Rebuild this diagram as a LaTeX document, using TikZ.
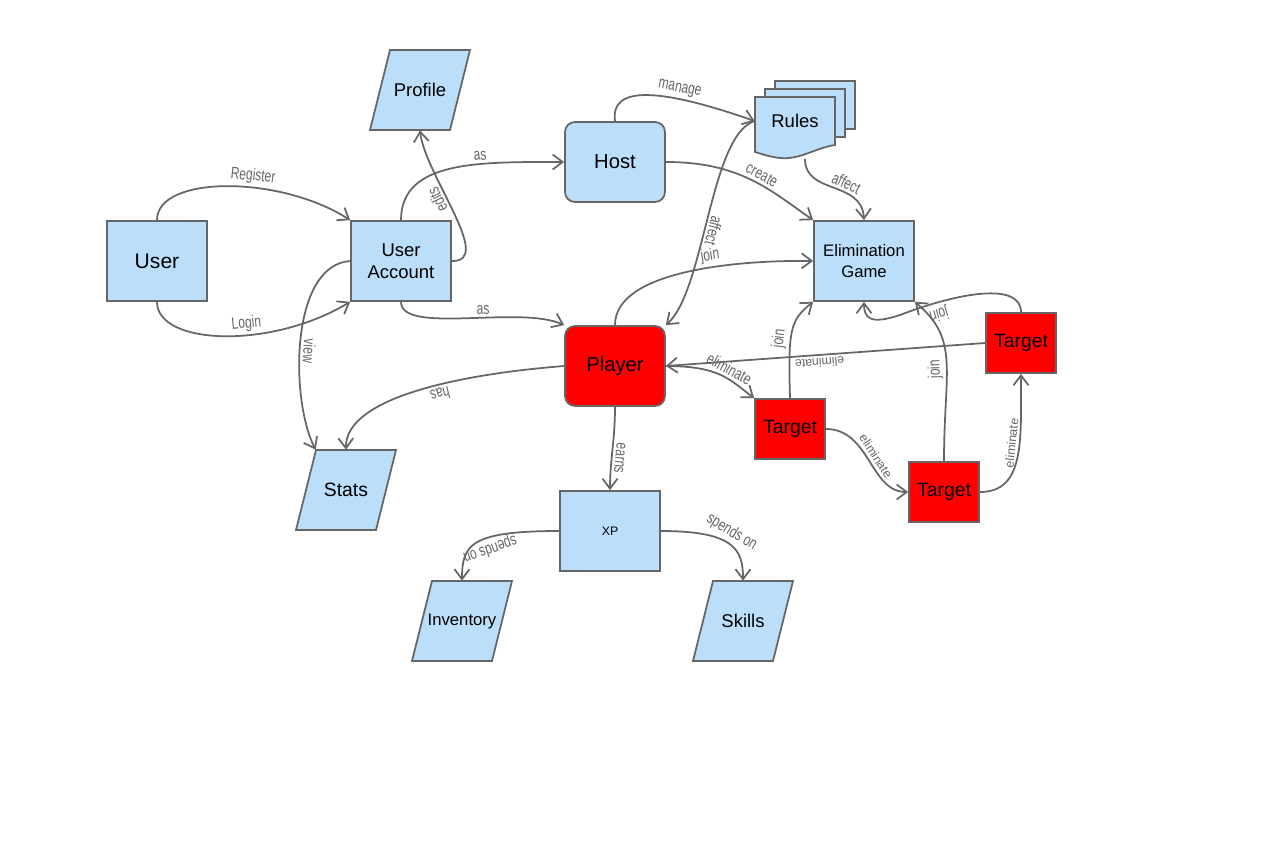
\documentclass[tikz,border=0pt]{standalone}
\usepackage{fontspec}
\setmainfont{Liberation Sans}
\newfontfamily\edgefont[FakeStretch=0.72]{Liberation Sans}
\usetikzlibrary{arrows.meta}
\definecolor{boxblue}{RGB}{187,222,251}
\definecolor{edgegray}{RGB}{102,102,102}

\begin{document}
\begin{tikzpicture}[x=0.02cm, y=-0.02cm,
  shape line/.style={draw=edgegray, fill=boxblue, line width=1pt},
  box/.style={rectangle, shape line, inner sep=0pt, minimum width=2cm, minimum height=1.6cm, align=center},
  rbox/.style={box, rounded corners=0.2cm},
  tgt/.style={box, fill=red, minimum width=1.4cm, minimum height=1.2cm, font=\fontsize{11}{13}\selectfont},
  data/.style={rectangle, inner sep=0pt, minimum width=1.2cm, minimum height=1.6cm},
  big/.style={font=\fontsize{11.5}{14}\selectfont},
  mid/.style={font=\fontsize{10.5}{12.5}\selectfont},
  link/.style={draw=edgegray, line width=1pt, -{Straight Barb[length=2mm,width=3mm]}},
  lbl/.style={font=\edgefont\fontsize{9.5}{11}\selectfont, text=edgegray, sloped, above, allow upside down, inner sep=1.5pt},
  lblsmall/.style={lbl, font=\fontsize{7}{8}\selectfont},
]
\useasboundingbox (0,0) rectangle (1282,859);

% --- rules stack ---
\filldraw[shape line] (775,81) rectangle (855,129);
\filldraw[shape line] (765,89) rectangle (845,137);
\filldraw[shape line] (755,97) -- (835,97) -- (835,145)
  .. controls (815,148) and (800,160) .. (780,158) .. controls (770,157) and (762,154) .. (755,152) -- cycle;
\node[mid, minimum width=1.6cm, minimum height=0.96cm] (rules) at (795,121) {Rules};
\coordinate (rulesfoot) at (805,159);

% --- data parallelograms ---
\foreach \cx/\cy in {420/90, 346/490, 462/621, 743/621}
  \filldraw[shape line] (\cx-30,\cy-40) -- (\cx+50,\cy-40) -- (\cx+30,\cy+40) -- (\cx-50,\cy+40) -- cycle;

% --- nodes ---
\node[box, font=\fontsize{12}{14}\selectfont] (user) at (157,261) {User};
\node[box, mid] (account) at (401,261) {User\\Account};
\node[data, mid] (profile) at (420,90) {Profile};
\node[rbox, big] (host) at (615,162) {Host};
\node[box, font=\fontsize{9.5}{11.5}\selectfont] (game) at (864,261) {Elimination\\Game};
\node[rbox, big, fill=red] (player) at (615,366) {Player};
\node[tgt] (target1) at (790,429) {Target};
\node[tgt] (target2) at (944,492) {Target};
\node[tgt] (target3) at (1021,343) {Target};
\node[data, font=\fontsize{11}{13}\selectfont] (stats) at (346,490) {Stats};
\node[box, font=\fontsize{7}{8}\selectfont] (xp) at (610,531) {XP};
\node[data, font=\fontsize{9.5}{11.5}\selectfont] (inventory) at (462,621) {Inventory};
\node[data, mid] (skills) at (743,621) {Skills};

% --- connectors ---
\draw[link] (user.north) .. controls (157,175) and (280,175) .. (account.north west) node[lbl, pos=0.6] {Register};
\draw[link] (user.south) .. controls (157,345) and (270,350) .. (account.south west) node[lbl, pos=0.6] {Login};
\draw[link] (account.north) .. controls (401,160) and (480,162) .. (host.west) node[lbl, pos=0.65] {as};
\draw[link] (account.east) .. controls (495,262) and (425,175) .. (profile.south) node[lbl, pos=0.6] {edits};
\draw[link] (account.south) .. controls (401,335) and (520,305) .. (player.north west) node[lbl, pos=0.58] {as};
\draw[link] (account.west) .. controls (290,265) and (290,400) .. (stats.north west) node[lbl, pos=0.55] {view};
\draw[link] (host.north) .. controls (610,85) and (660,88) .. (rules.west) node[lbl, pos=0.68] {manage};
\draw[link] (host.east) .. controls (740,162) and (770,190) .. (game.north west) node[lbl, pos=0.55] {create};
\draw[link] (rulesfoot) .. controls (805,195) and (862,180) .. (game.north) node[lbl, pos=0.6] {affect};
\draw[link] (player.north) .. controls (615,270) and (740,260) .. (game.west) node[lbl, pos=0.6] {join};
\draw[link] (rules.west) .. controls (710,135) and (705,290) .. (player.north east) node[lbl, pos=0.55] {affect};
\draw[link] (player.east) .. controls (720,366) and (730,380) .. (target1.north west) node[lbl, pos=0.55] {eliminate};
\draw[link] (target3.west) -- (player.east) node[lblsmall, pos=0.52] {eliminate};
\draw[link] (target1.north) .. controls (788,330) and (790,320) .. (game.south west) node[lbl, pos=0.4] {join};
\draw[link] (target1.east) .. controls (870,429) and (870,492) .. (target2.west) node[lblsmall, pos=0.5] {eliminate};
\draw[link] (target2.north) .. controls (944,370) and (960,340) .. (game.south east) node[lbl, pos=0.45] {join};
\draw[link] (target2.east) .. controls (1025,492) and (1021,440) .. (target3.south) node[lblsmall, pos=0.6] {eliminate};
\draw[link] (target3.north) .. controls (1021,282) and (960,292) .. (900,315) node[lbl, pos=0.8] {join}
  .. controls (870,325) and (864,318) .. (game.south);
\draw[link] (player.west) .. controls (450,375) and (345,400) .. (stats.north) node[lbl, pos=0.4] {has};
\draw[link] (player.south) .. controls (615,440) and (610,460) .. (xp.north) node[lbl, pos=0.6] {earns};
\draw[link] (xp.west) .. controls (470,531) and (462,545) .. (inventory.north) node[lbl, pos=0.4] {spends on};
\draw[link] (xp.east) .. controls (735,531) and (743,550) .. (skills.north) node[lbl, pos=0.45] {spends on};
\end{tikzpicture}
\end{document}
